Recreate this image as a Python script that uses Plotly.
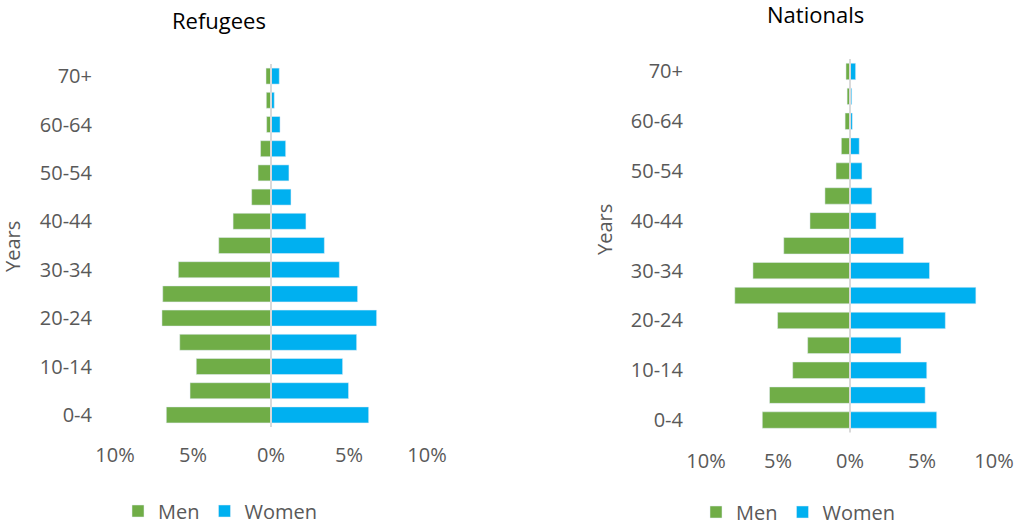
import plotly.graph_objects as go

age_groups = ['0-4', '5-9', '10-14', '15-19', '20-24', '25-29', '30-34', '35-39',
              '40-44', '45-49', '50-54', '55-59', '60-64', '65-69', '70+']
shown_ticks = ['0-4', '10-14', '20-24', '30-34', '40-44', '50-54', '60-64', '70+']

refugee_men = [6.71, 5.19, 4.79, 5.85, 6.99, 6.94, 5.94, 3.35, 2.43, 1.24, 0.83, 0.67, 0.28, 0.30, 0.32]
refugee_women = [6.26, 4.97, 4.59, 5.49, 6.77, 5.55, 4.38, 3.42, 2.24, 1.28, 1.15, 0.94, 0.58, 0.21, 0.53]
national_men = [6.09, 5.59, 3.98, 2.94, 5.03, 8.00, 6.74, 4.60, 2.78, 1.74, 0.97, 0.60, 0.34, 0.20, 0.28]
national_women = [6.02, 5.22, 5.33, 3.54, 6.62, 8.74, 5.52, 3.72, 1.81, 1.52, 0.83, 0.64, 0.16, 0.12, 0.39]

x_tickvals = [-10, -5, 0, 5, 10]
x_ticktext = ['10%', '5%', '0%', '5%', '10%']

GREEN = '#70AD47'
BLUE = '#00B0F0'
GRAY = '#595959'
FONT = 'Open Sans'

fig = go.Figure()

fig.add_trace(go.Bar(y=age_groups, x=[-v for v in refugee_men], orientation='h', name='Men',
                     marker=dict(color=GREEN), xaxis='x', yaxis='y', legend='legend'))
fig.add_trace(go.Bar(y=age_groups, x=refugee_women, orientation='h', name='Women',
                     marker=dict(color=BLUE), xaxis='x', yaxis='y', legend='legend'))
fig.add_trace(go.Bar(y=age_groups, x=[-v for v in national_men], orientation='h', name='Men',
                     marker=dict(color=GREEN), xaxis='x2', yaxis='y2', legend='legend2'))
fig.add_trace(go.Bar(y=age_groups, x=national_women, orientation='h', name='Women',
                     marker=dict(color=BLUE), xaxis='x2', yaxis='y2', legend='legend2'))

W, H = 1018, 527
def px(v):
    return v / W
def py(v):
    return 1 - v / H

xaxis_common = dict(range=[-10, 10], tickvals=x_tickvals, ticktext=x_ticktext,
                    showgrid=False, zeroline=False, showline=False, ticks='',
                    tickfont=dict(family=FONT, size=20, color=GRAY), ticklabelstandoff=14,
                    fixedrange=True, automargin=False)
yaxis_common = dict(type='category', categoryorder='array', categoryarray=age_groups,
                    tickvals=shown_ticks, showgrid=False, zeroline=False, showline=False,
                    ticks='', tickfont=dict(family=FONT, size=20, color=GRAY),
                    ticklabelstandoff=22, fixedrange=True, automargin=False)

fig.update_layout(
    width=W, height=H,
    margin=dict(l=0, r=0, t=0, b=0, autoexpand=False),
    paper_bgcolor='white', plot_bgcolor='white',
    barmode='relative', bargap=0.34,
    font=dict(family=FONT, color=GRAY),
    xaxis=dict(domain=[px(115), px(427)], anchor='y', **xaxis_common),
    yaxis=dict(domain=[py(427), py(64)], anchor='x', **yaxis_common),
    xaxis2=dict(domain=[px(706), px(994)], anchor='y2', **xaxis_common),
    yaxis2=dict(domain=[py(432.5), py(59)], anchor='x2', **yaxis_common),
    legend=dict(orientation='h', x=px(118), y=py(511), xanchor='left', yanchor='middle',
                font=dict(family=FONT, size=20, color=GRAY), bgcolor='rgba(0,0,0,0)',
                traceorder='normal'),
    legend2=dict(orientation='h', x=px(696), y=py(512), xanchor='left', yanchor='middle',
                 font=dict(family=FONT, size=20, color=GRAY), bgcolor='rgba(0,0,0,0)',
                 traceorder='normal'),
    shapes=[
        dict(type='line', xref='x', yref='y domain', x0=0, x1=0, y0=0, y1=1,
             line=dict(color='#D9D9D9', width=2), layer='above'),
        dict(type='line', xref='x2', yref='y2 domain', x0=0, x1=0, y0=0, y1=1,
             line=dict(color='#D9D9D9', width=2), layer='above'),
    ],
    annotations=[
        dict(text='Refugees', x=px(219), y=py(20), xref='paper', yref='paper',
             showarrow=False, font=dict(family=FONT, size=22, color='black'),
             xanchor='center', yanchor='middle'),
        dict(text='Nationals', x=px(815), y=py(14), xref='paper', yref='paper',
             showarrow=False, font=dict(family=FONT, size=22, color='black'),
             xanchor='center', yanchor='middle'),
        dict(text='Years', x=px(12), y=py(247), xref='paper', yref='paper', textangle=-90,
             showarrow=False, font=dict(family=FONT, size=20, color=GRAY),
             xanchor='center', yanchor='middle'),
        dict(text='Years', x=px(604), y=py(230), xref='paper', yref='paper', textangle=-90,
             showarrow=False, font=dict(family=FONT, size=20, color=GRAY),
             xanchor='center', yanchor='middle'),
    ],
)

fig.write_html('out.html', config={'displayModeBar': False},
               post_script="document.body.style.margin='0';")
